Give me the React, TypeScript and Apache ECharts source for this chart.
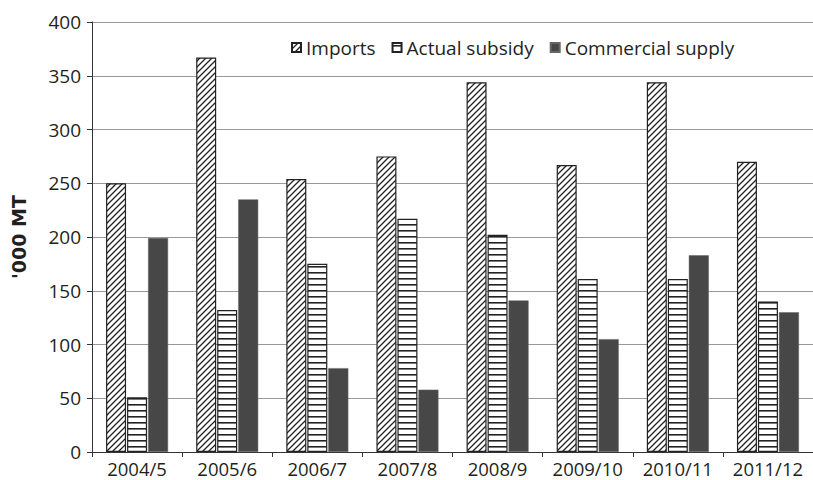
import React, { useEffect, useRef } from "react";
import * as echarts from "echarts";

const categories = ["2004/5", "2005/6", "2006/7", "2007/8", "2008/9", "2009/10", "2010/11", "2011/12"];
const imports = [250, 367, 254, 275, 344, 267, 344, 270];
const actualSubsidy = [51, 132, 175, 217, 202, 161, 161, 140];
const commercialSupply = [199, 235, 78, 58, 141, 105, 183, 130];
const yTicks = { min: 0, max: 400, interval: 50 };

function makeDiag(): HTMLCanvasElement {
  const c = document.createElement("canvas");
  const s = 6;
  c.width = s;
  c.height = s;
  const ctx = c.getContext("2d")!;
  ctx.fillStyle = "#ffffff";
  ctx.fillRect(0, 0, s, s);
  ctx.strokeStyle = "#222222";
  ctx.lineWidth = 1.3;
  ctx.beginPath();
  ctx.moveTo(-1, s + 1);
  ctx.lineTo(s + 1, -1);
  ctx.moveTo(-1, 1);
  ctx.lineTo(1, -1);
  ctx.moveTo(s - 1, s + 1);
  ctx.lineTo(s + 1, s - 1);
  ctx.stroke();
  return c;
}

function makeHoriz(): HTMLCanvasElement {
  const c = document.createElement("canvas");
  const s = 6;
  c.width = s;
  c.height = s;
  const ctx = c.getContext("2d")!;
  ctx.fillStyle = "#ffffff";
  ctx.fillRect(0, 0, s, s);
  ctx.fillStyle = "#222222";
  ctx.fillRect(0, 2, s, 1.6);
  return c;
}

export default function App() {
  const ref = useRef<HTMLDivElement>(null);
  useEffect(() => {
    if (!ref.current) return;
    const chart = echarts.init(ref.current, null, { renderer: "svg" });
    const font = "'Open Sans', 'Noto Sans', sans-serif";
    const diag = { image: makeDiag(), repeat: "repeat" };
    const horiz = { image: makeHoriz(), repeat: "repeat" };
    chart.setOption({
      animation: false,
      backgroundColor: "#ffffff",
      textStyle: { fontFamily: font },
      grid: { left: 92, top: 22, width: 726, height: 430, containLabel: false },
      legend: {
        top: 33,
        left: 286,
        icon: "rect",
        itemWidth: 9,
        itemHeight: 9,
        itemGap: 16,
        textStyle: { fontSize: 19, color: "#231f20", fontFamily: font },
        data: ["Imports", "Actual subsidy", "Commercial supply"],
      },
      xAxis: {
        type: "category",
        data: categories,
        axisLine: { lineStyle: { color: "#333", width: 1 } },
        axisTick: { show: true, length: 5, lineStyle: { color: "#333" } },
        axisLabel: { fontSize: 18.5, color: "#231f20", margin: 7, interval: 0, fontFamily: font },
      },
      yAxis: {
        type: "value",
        min: yTicks.min,
        max: yTicks.max,
        interval: yTicks.interval,
        name: "'000 MT",
        nameLocation: "middle",
        nameGap: 64,
        nameRotate: 90,
        nameTextStyle: { fontSize: 19, fontWeight: "bold", color: "#231f20", fontFamily: "'DejaVu Sans', sans-serif" },
        axisLine: { show: true, lineStyle: { color: "#333", width: 1 } },
        axisTick: { show: true, length: 5, lineStyle: { color: "#333" } },
        axisLabel: { fontSize: 19, color: "#231f20", margin: 11, fontFamily: font },
        splitLine: { lineStyle: { color: "#999", width: 1 } },
      },
      series: [
        {
          name: "Imports",
          type: "bar",
          data: imports,
          barWidth: 20,
          barGap: "5%",
          itemStyle: { color: diag, borderColor: "#222", borderWidth: 1.2 },
        },
        {
          name: "Actual subsidy",
          type: "bar",
          data: actualSubsidy,
          barWidth: 20,
          barGap: "5%",
          itemStyle: { color: horiz, borderColor: "#222", borderWidth: 1.2 },
        },
        {
          name: "Commercial supply",
          type: "bar",
          data: commercialSupply,
          barWidth: 20,
          barGap: "5%",
          itemStyle: { color: "#474747", borderColor: "#666", borderWidth: 0.5 },
        },
      ],
    });
    return () => chart.dispose();
  }, []);
  return <div ref={ref} style={{ width: 813, height: 480, position: "absolute", left: 0, top: 0 }} />;
}
